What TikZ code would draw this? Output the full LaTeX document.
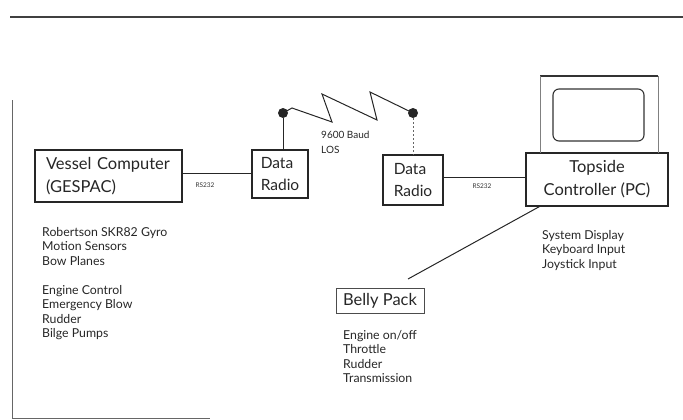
\documentclass[tikz,border=0pt]{standalone}
\usepackage{fontspec}
\setmainfont{Lato}
\begin{document}
\begin{tikzpicture}[x=1pt,y=-1pt,
  box/.style={draw=black!85, line width=1.2pt, inner sep=0pt},
  boxtext/.style={font={\fontsize{16.5}{23}\selectfont}, align=left, text=black!85},
  listtext/.style={font={\fontsize{12.3}{14.5}\selectfont}, align=left, inner sep=0pt, anchor=north west, text=black!85},
  tiny/.style={font={\fontsize{6.5}{8}\selectfont}, inner sep=0pt, text=black!80},
  wire/.style={draw=black!85, line width=1pt},
  antdot/.style={circle, fill=black!85, inner sep=0pt, minimum size=10pt}
]
\useasboundingbox (0,0) rectangle (683,420);
% page frame
\draw[black!75, line width=1.2pt] (10,17) -- (683,17);
\draw[black!60, line width=0.8pt] (12,100) -- (12,418) -- (210,418);

% boxes
\node[box, boxtext, minimum width=147pt, minimum height=52pt, text width=125pt] (vessel) at (108.5,176) {Vessel Computer\\(GESPAC)};
\node[box, boxtext, minimum width=56pt, minimum height=48pt, font={\fontsize{15.5}{22}\selectfont}] (dr1) at (280,174) {Data\\Radio};
\node[box, boxtext, minimum width=60pt, minimum height=50pt, font={\fontsize{15.5}{22}\selectfont}] (dr2) at (413,180) {Data\\Radio};
\node[box, boxtext, align=center, minimum width=142pt, minimum height=53pt] (top) at (597,179.5) {Topside\\Controller (PC)};
\node[draw=black!70, line width=0.8pt, minimum width=88pt, minimum height=25pt, inner sep=0pt, font={\fontsize{16.5}{18}\selectfont}, text=black!85] (belly) at (380,300.5) {Belly Pack};

% monitor
\draw[black!80, line width=1.2pt] (540,76) -- (658,76);
\draw[black!50, line width=0.6pt] (540,76) -- (540,153) (658,76) -- (658,153);
\draw[black!80, line width=1.1pt, rounded corners=6pt] (553,89) rectangle (644,141);

% wires
\draw[wire] (vessel.east |- 0,173) -- (dr1.west |- 0,173);
\draw[wire] (dr2.east |- 0,177) -- (top.west |- 0,177);
\node[tiny] (rs1) at (205,185) {RS232};
\node[tiny] (rs2) at (482,186) {RS232};

% antennas
\node[antdot] (d1) at (283,113) {};
\node[antdot] (d2) at (413,113) {};
\draw[wire] (d1) -- (d1 |- dr1.north);
\draw[wire, black!60, dash pattern=on 2pt off 2pt] (d2) -- (d2 |- dr2.north);
\coordinate (z1) at (292,108);
\coordinate (z2) at (332,122);
\coordinate (z3) at (322,94);
\coordinate (z4) at (377,120);
\coordinate (z5) at (370,92);
\draw[wire, line join=miter] (d1.center) -- (z1) -- (z2) -- (z3) -- (z4) -- (z5) -- (d2.center);
\node[font={\fontsize{10}{15}\selectfont}, align=left, inner sep=0pt, anchor=north west, text=black!85] (baud) at (321,131) {9600 Baud\\LOS};

% belly pack link
\coordinate (bp) at (408,279);
\draw[wire] ([xshift=14pt]top.south west) -- (bp);

% lists
\node[listtext] (vl1) at (42,227) {Robertson SKR82 Gyro\\Motion Sensors\\Bow Planes};
\node[listtext] (vl2) at (42,285) {Engine Control\\Emergency Blow\\Rudder\\Bilge Pumps};
\node[listtext] (tl) at (542,230) {System Display\\Keyboard Input\\Joystick Input};
\node[listtext] (bl) at (343,330) {Engine on/off\\Throttle\\Rudder\\Transmission};
\end{tikzpicture}
\end{document}
